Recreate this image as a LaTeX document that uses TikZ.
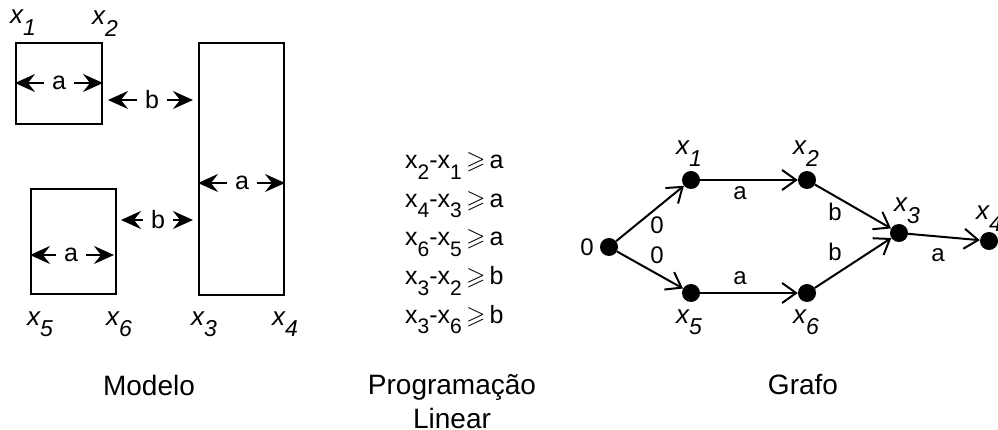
\documentclass[tikz,border=0pt]{standalone}
\usepackage{amssymb}
\usepackage{fontspec}
\setmainfont{Liberation Sans}
\usetikzlibrary{arrows.meta}

% variable with a lowered index, upright (constraints) and italic (labels)
\newcommand{\cvar}[1]{x\raisebox{-0.42em}{\fontsize{21}{21}\selectfont #1}}
\newcommand{\ivar}[1]{\textit{x\raisebox{-0.45em}{\fontsize{23}{23}\selectfont #1}}}
\newcommand{\sgeq}{\,$\geqslant$\,}

\tikzset{
  blk/.style={draw, line width=2pt, inner sep=0pt},
  dimtip/.tip={Stealth[length=20pt,width=18pt,inset=7pt]},
  dimarrow/.style={line width=2pt, -dimtip},
  dimlab/.style={font=\fontsize{25}{25}\selectfont, inner sep=0pt, minimum width=30pt},
  varlab/.style={font=\fontsize{26}{26}\selectfont, inner sep=0pt, anchor=base west},
  lpline/.style={font=\fontsize{25}{25}\selectfont, inner sep=0pt, anchor=base west},
  caption/.style={font=\fontsize{28}{34}\selectfont, align=center, inner sep=0pt},
  vertex/.style={circle, fill, inner sep=0pt, minimum size=18pt},
  arctip/.tip={Straight Barb[length=14pt,width=20pt]},
  arcline/.style={line width=2pt, -arctip},
  arclab/.style={font=\fontsize{24}{24}\selectfont, inner sep=0pt}
}

\begin{document}
\begin{tikzpicture}[x=1pt, y=-1pt]
\useasboundingbox (0,0) rectangle (998,430);

% ---------------- Modelo: the three blocks ----------------
\node[blk, minimum width=86pt, minimum height=81pt]  (b1) at (59,83.5) {};
\node[blk, minimum width=85pt, minimum height=105pt] (b2) at (73.5,241.5) {};
\node[blk, minimum width=85pt, minimum height=252pt] (b3) at (241.5,169) {};

% widths inside the blocks
\node[dimlab] (wa1) at (59,83) {a};
\draw[dimarrow] (wa1.west) -- (b1.west |- wa1);
\draw[dimarrow] (wa1.east) -- (b1.east |- wa1);

\node[dimlab] (wa2) at (71,255) {a};
\draw[dimarrow] (wa2.west) -- (b2.west |- wa2);
\draw[dimarrow, shorten >=3pt] (wa2.east) -- (b2.east |- wa2);

\node[dimlab] (wa3) at (242,183) {a};
\draw[dimarrow] (wa3.west) -- (b3.west |- wa3);
\draw[dimarrow] (wa3.east) -- (b3.east |- wa3);

% gaps between the blocks
\node[dimlab] (gb1) at (152,100) {b};
\draw[dimarrow, shorten >=5pt] (gb1.west) -- (b1.east |- gb1);
\draw[dimarrow, shorten >=5pt] (gb1.east) -- (b3.west |- gb1);

\node[dimlab] (gb2) at (158,220) {b};
\draw[dimarrow, shorten >=4pt] (gb2.west) -- (b2.east |- gb2);
\draw[dimarrow, shorten >=5pt] (gb2.east) -- (b3.west |- gb2);

% block edge names
\node[varlab] (l1) at (10,24)  {\ivar{1}};
\node[varlab] (l2) at (92,25)  {\ivar{2}};
\node[varlab] (l5) at (27,325) {\ivar{5}};
\node[varlab] (l6) at (106,325) {\ivar{6}};
\node[varlab] (l3) at (191,325) {\ivar{3}};
\node[varlab] (l4) at (272,325) {\ivar{4}};

% ---------------- Programação Linear ----------------
\node[lpline] (c1) at (405,169)   {\cvar{2}-\cvar{1}\sgeq a};
\node[lpline] (c2) at (405,207.5) {\cvar{4}-\cvar{3}\sgeq a};
\node[lpline] (c3) at (405,246)   {\cvar{6}-\cvar{5}\sgeq a};
\node[lpline] (c4) at (405,284.5) {\cvar{3}-\cvar{2}\sgeq b};
\node[lpline] (c5) at (405,323)   {\cvar{3}-\cvar{6}\sgeq b};

% ---------------- Grafo ----------------
\node[vertex] (n0) at (609,247) {};
\node[vertex] (n1) at (691,180) {};
\node[vertex] (n2) at (807,180) {};
\node[vertex] (n3) at (899,233) {};
\node[vertex] (n4) at (989,241) {};
\node[vertex] (n5) at (691,293) {};
\node[vertex] (n6) at (807,293) {};

\draw[arcline] (n0) -- (n1);
\draw[arcline] (n0) -- (n5);
\draw[arcline] (n1) -- (n2);
\draw[arcline] (n5) -- (n6);
\draw[arcline] (n2) -- (n3);
\draw[arcline] (n6) -- (n3);
\draw[arcline] (n3) -- (n4);

\node[arclab] (e01) at (657,225) {0};
\node[arclab] (e05) at (657,255) {0};
\node[arclab] (e12) at (740,193) {a};
\node[arclab] (e56) at (740,278) {a};
\node[arclab] (e23) at (835,212) {b};
\node[arclab] (e63) at (835,252) {b};
\node[arclab] (e34) at (938,255) {a};

\node[arclab] (v0) at (587,247) {0};
\node[varlab] (v1) at (676,155) {\ivar{1}};
\node[varlab] (v2) at (793,155) {\ivar{2}};
\node[varlab] (v3) at (894,212) {\ivar{3}};
\node[varlab] (v4) at (976,220) {\ivar{4}};
\node[varlab] (v5) at (676,323) {\ivar{5}};
\node[varlab] (v6) at (793,323) {\ivar{6}};

% ---------------- captions ----------------
\node[caption] (t1) at (149,385) {Modelo};
\node[caption] (t2) at (452,402) {Programação\\Linear};
\node[caption] (t3) at (803,385) {Grafo};
\end{tikzpicture}
\end{document}
